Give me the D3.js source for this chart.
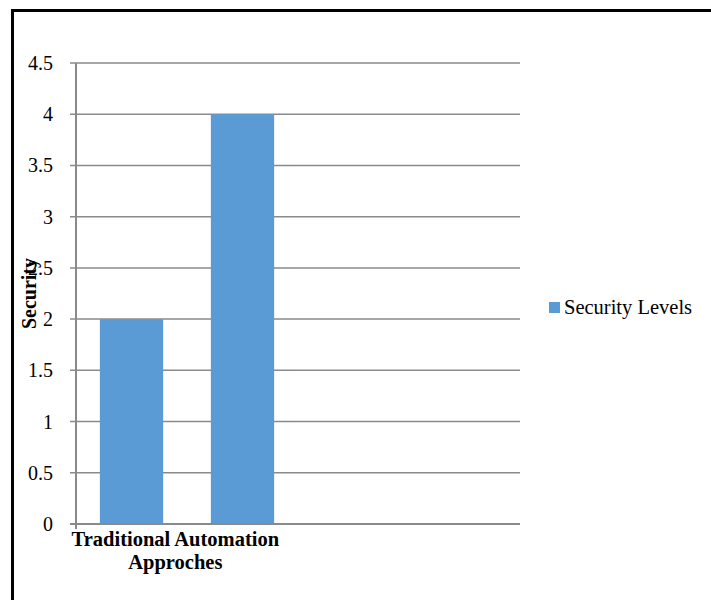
<!DOCTYPE html>
<html>
<head>
<meta charset="utf-8">
<script src="https://cdn.jsdelivr.net/npm/d3@7"></script>
<style>
  body { margin: 0; background: #fff; }
  svg { display: block; font-family: "Liberation Serif", "Times New Roman", serif; }
</style>
</head>
<body>
<div id="chart"></div>
<script>
// Chart data
const categories = ["Traditional", "Automation Approches", "c3", "c4"];
const values = [2, 4, null, null];
const xLabelLines = ["Traditional Automation", "Approches"];
const yTicks = [0, 0.5, 1, 1.5, 2, 2.5, 3, 3.5, 4, 4.5];
const seriesName = "Security Levels";
const yTitle = "Security";

const width = 711, height = 600;
const margin = { left: 76, right: 191, top: 63, bottom: 76 };
const barColor = "#5B9BD5";

const svg = d3.select("#chart").append("svg")
    .attr("width", width)
    .attr("height", height);

svg.append("rect").attr("width", width).attr("height", height).attr("fill", "#fff");

// outer frame (cut off at right and bottom edges)
svg.append("rect")
    .attr("x", 12.5).attr("y", 10.5)
    .attr("width", 760).attr("height", 700)
    .attr("fill", "none")
    .attr("stroke", "#000")
    .attr("stroke-width", 3);

const x = d3.scaleBand()
    .domain(categories)
    .range([margin.left, width - margin.right])
    .paddingInner(0.43)
    .paddingOuter(0.215);

const y = d3.scaleLinear()
    .domain([0, 4.5])
    .range([height - margin.bottom, margin.top]);

// gridlines + tick labels
const grid = svg.append("g");
yTicks.forEach(t => {
    grid.append("line")
        .attr("x1", margin.left - 6).attr("x2", width - margin.right)
        .attr("y1", y(t)).attr("y2", y(t))
        .attr("stroke", "#8a8a8a").attr("stroke-width", 1.5);
    grid.append("text")
        .attr("x", 53).attr("y", y(t))
        .attr("dy", "0.35em")
        .attr("text-anchor", "end")
        .attr("font-size", 20)
        .attr("fill", "#000")
        .text(t);
});

// bars
svg.append("g").selectAll("rect")
    .data(categories.map((c, i) => ({ c, v: values[i] })).filter(d => d.v != null))
    .join("rect")
    .attr("x", d => x(d.c))
    .attr("y", d => y(d.v))
    .attr("width", x.bandwidth())
    .attr("height", d => y(0) - y(d.v))
    .attr("fill", barColor);

// y axis line
svg.append("line")
    .attr("x1", margin.left).attr("x2", margin.left)
    .attr("y1", y(4.5)).attr("y2", y(0) + 5)
    .attr("stroke", "#8a8a8a").attr("stroke-width", 2);

// x axis line
svg.append("line")
    .attr("x1", margin.left - 6).attr("x2", width - margin.right)
    .attr("y1", y(0)).attr("y2", y(0))
    .attr("stroke", "#8a8a8a").attr("stroke-width", 2);

// category label (wrapped, bold)
const labelCx = x(categories[1]) - x.step() * 0.32;
xLabelLines.forEach((line, i) => {
    svg.append("text")
        .attr("x", labelCx)
        .attr("y", y(0) + 22 + i * 23)
        .attr("text-anchor", "middle")
        .attr("font-size", 20.5)
        .attr("font-weight", "bold")
        .attr("fill", "#000")
        .text(line);
});

// y axis title
svg.append("text")
    .attr("transform", `translate(36,${(y(0) + y(4.5)) / 2}) rotate(-90)`)
    .attr("text-anchor", "middle")
    .attr("font-size", 20)
    .attr("font-weight", "bold")
    .attr("fill", "#000")
    .text(yTitle);

// legend
const legend = svg.append("g").attr("transform", "translate(549,302)");
legend.append("rect")
    .attr("width", 11).attr("height", 11)
    .attr("fill", barColor);
legend.append("text")
    .attr("x", 15).attr("y", 12)
    .attr("font-size", 20.5)
    .attr("fill", "#000")
    .text(seriesName);
</script>
</body>
</html>
